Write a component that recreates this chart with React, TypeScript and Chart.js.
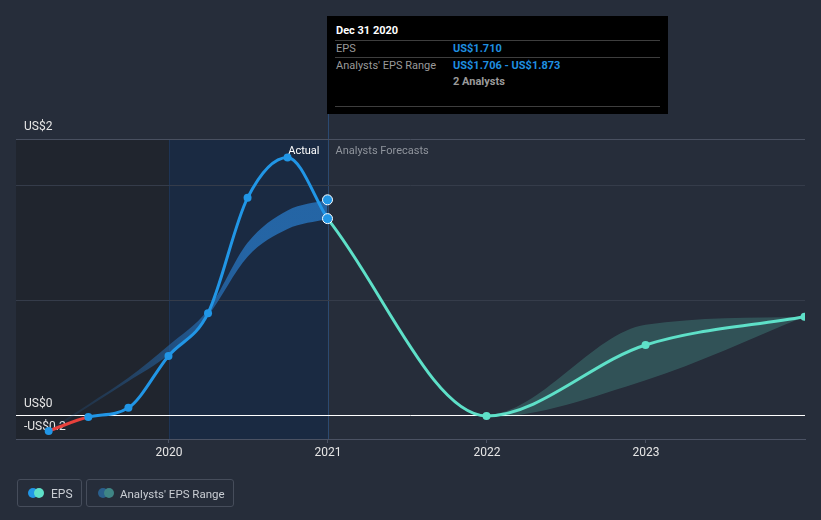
import { useEffect, useRef } from "react";
import { Chart, registerables } from "chart.js";

Chart.register(...registerables);

// ---------- data ----------
const actualDates = ["2019-03-31", "2019-06-30", "2019-09-30", "2019-12-31", "2020-03-31", "2020-06-30", "2020-09-30", "2020-12-31"];
const actualEps = [-0.13, -0.01, 0.07, 0.52, 0.89, 1.89, 2.24, 1.71];
const pastRangeLow = [-0.14, 0.08, 0.3, 0.53, 0.87, 1.38, 1.62, 1.706];
const pastRangeHigh = [-0.12, 0.1, 0.33, 0.61, 0.92, 1.5, 1.78, 1.873];

const forecastDates = ["2020-12-31", "2021-12-31", "2022-12-31", "2023-12-31"];
const forecastEps = [1.71, 0.0, 0.615, 0.86];
const forecastLow = [1.706, -0.01, 0.31, 0.86];
const forecastHigh = [1.71, 0.01, 0.79, 0.86];

const markerDates = ["2020-12-31", "2020-12-31"];
const markerValues = [1.873, 1.71];

const xTickYears = [2020, 2021, 2022, 2023];
const xRangeDates = ["2019-01-15", "2024-01-01"];
const yTickValues = [-0.2, 0, 1, 2, 2.4];
const yTickLabels = ["-US$0.2", "US$0", "", "", "US$2"];
const yRange = [-0.2, 2.4];
const highlightStartDate = "2020-01-01";
const highlightEndDate = "2020-12-31";

const tooltipTitle = "Dec 31 2020";
const tooltipEps = "US$1.710";
const tooltipRange = "US$1.706 - US$1.873";
const tooltipAnalysts = "2 Analysts";

// ---------- helpers ----------
function toYear(d: string): number {
  const [y, m, dd] = d.split("-").map(Number);
  const start = Date.UTC(y, 0, 1);
  const end = Date.UTC(y + 1, 0, 1);
  return y + (Date.UTC(y, m - 1, dd) - start) / (end - start);
}
function pts(dates: string[], vals: number[]) {
  return dates.map((d, i) => ({ x: toYear(d), y: vals[i] }));
}

const BLUE = "#2196e6";
const TEAL = "#5ee0c8";
const RED = "#e8413c";
const FONT = "Roboto";

const regionsPlugin = {
  id: "regions",
  beforeDraw(chart: any) {
    const { ctx, chartArea } = chart;
    const xs = chart.scales.x;
    const { top, bottom, left } = chartArea;
    const x0 = xs.getPixelForValue(toYear(highlightStartDate));
    const x1 = xs.getPixelForValue(toYear(highlightEndDate));
    ctx.save();
    ctx.fillStyle = "#20252e";
    ctx.fillRect(left, top, x0 - left, bottom - top);
    ctx.fillStyle = "#1a2a42";
    ctx.fillRect(x0, top, x1 - x0, bottom - top);
    ctx.fillStyle = "#1e3455";
    ctx.fillRect(Math.round(x0), top, 1, bottom - top);
    ctx.fillStyle = "#2b4a72";
    ctx.fillRect(Math.round(x1), top - 25, 1, bottom - top + 25);
    ctx.restore();
  },
  beforeDatasetsDraw(chart: any) {
    const { ctx, chartArea } = chart;
    const xs = chart.scales.x;
    const x1 = xs.getPixelForValue(toYear(highlightEndDate));
    ctx.save();
    ctx.font = `11px ${FONT}`;
    ctx.textBaseline = "middle";
    ctx.textAlign = "right";
    ctx.fillStyle = "#ffffff";
    ctx.fillText("Actual", x1 - 8, chartArea.top + 12);
    ctx.textAlign = "left";
    ctx.fillStyle = "#8f949c";
    ctx.fillText("Analysts Forecasts", x1 + 8, chartArea.top + 12);
    ctx.restore();
  },
};

function pastBandColor(c: any) {
  const chart = c.chart;
  const area = chart.chartArea;
  if (!area) return "rgba(37,104,170,0.9)";
  const xs = chart.scales.x;
  const g = chart.ctx.createLinearGradient(
    xs.getPixelForValue(toYear(actualDates[0])), 0,
    xs.getPixelForValue(toYear(actualDates[5])), 0
  );
  g.addColorStop(0, "rgba(37,104,170,0.05)");
  g.addColorStop(1, "rgba(37,104,170,0.95)");
  return g;
}

export default function App() {
  const ref = useRef<HTMLCanvasElement>(null);

  useEffect(() => {
    if (!ref.current) return;
    const chart = new Chart(ref.current, {
      type: "line",
      data: {
        datasets: [
          {
            label: "markers",
            data: pts(markerDates, markerValues),
            showLine: false,
            pointRadius: 5,
            pointBackgroundColor: BLUE,
            pointBorderColor: "#ffffff",
            pointBorderWidth: 1,
            order: 0,
          },
          {
            label: "EPS",
            data: pts(actualDates, actualEps),
            borderColor: BLUE,
            borderWidth: 3,
            cubicInterpolationMode: "monotone",
            pointRadius: actualDates.map((_, i) => (i === actualDates.length - 1 ? 0 : 4)),
            pointBackgroundColor: BLUE,
            pointBorderWidth: 0,
            fill: false,
            segment: {
              borderColor: (c: any) => (c.p1.parsed.y < 0 ? RED : undefined),
            },
            order: 1,
          },
          {
            label: "EPS forecast",
            data: pts(forecastDates, forecastEps),
            borderColor: TEAL,
            borderWidth: 3,
            cubicInterpolationMode: "monotone",
            pointRadius: forecastDates.map((_, i) => (i === 0 ? 0 : 4)),
            pointBackgroundColor: TEAL,
            pointBorderWidth: 0,
            fill: false,
            order: 1,
          },
          {
            label: "pastLow",
            data: pts(actualDates, pastRangeLow),
            borderWidth: 0,
            pointRadius: 0,
            cubicInterpolationMode: "monotone",
            fill: false,
            order: 5,
          },
          {
            label: "pastHigh",
            data: pts(actualDates, pastRangeHigh),
            borderWidth: 0,
            pointRadius: 0,
            cubicInterpolationMode: "monotone",
            backgroundColor: pastBandColor,
            fill: "-1",
            order: 5,
          },
          {
            label: "fcLow",
            data: pts(forecastDates, forecastLow),
            borderWidth: 0,
            pointRadius: 0,
            cubicInterpolationMode: "monotone",
            fill: false,
            order: 5,
          },
          {
            label: "fcHigh",
            data: pts(forecastDates, forecastHigh),
            borderWidth: 0,
            pointRadius: 0,
            cubicInterpolationMode: "monotone",
            backgroundColor: "rgba(93,224,197,0.21)",
            fill: "-1",
            order: 5,
          },
        ],
      } as any,
      options: {
        responsive: false,
        maintainAspectRatio: false,
        animation: false,
        devicePixelRatio: 1,
        layout: { padding: { left: 16, right: 16, top: 139, bottom: 41 } },
        plugins: { legend: { display: false }, tooltip: { enabled: false } },
        scales: {
          x: {
            type: "linear",
            min: toYear(xRangeDates[0]),
            max: toYear(xRangeDates[1]),
            afterBuildTicks: (s: any) => {
              s.ticks = xTickYears.map((v) => ({ value: v }));
            },
            afterFit: (s: any) => {
              s.height = 40;
            },
            grid: { drawOnChartArea: false, drawTicks: true, tickLength: 4, color: "#4b5263" },
            border: { display: true, color: "#4b5263", width: 1 },
            ticks: {
              color: "#e6e6e6",
              font: { family: FONT, size: 12 },
              padding: 3,
              maxRotation: 0,
              autoSkip: false,
              callback: (v: any) => String(v),
            },
          },
          y: {
            type: "linear",
            min: yRange[0],
            max: yRange[1],
            afterBuildTicks: (s: any) => {
              s.ticks = yTickValues.map((v) => ({ value: v }));
            },
            afterFit: (s: any) => {
              s.width = 0;
            },
            border: { display: false },
            grid: {
              drawTicks: false,
              lineWidth: 1,
              color: (c: any) => {
                const v = c.tick ? c.tick.value : null;
                if (v === 0) return "#ffffff";
                if (v === yRange[0]) return "rgba(0,0,0,0)";
                if (v === yRange[1]) return "#495060";
                return "#353c4a";
              },
            },
            ticks: {
              mirror: true,
              padding: 8,
              labelOffset: -12,
              color: "#e6e6e6",
              font: { family: FONT, size: 12 },
              autoSkip: false,
              callback: (v: any) => {
                const i = yTickValues.indexOf(Number(v));
                return i >= 0 ? yTickLabels[i] : "";
              },
            },
          },
        },
      } as any,
      plugins: [regionsPlugin],
    });
    return () => chart.destroy();
  }, []);

  const rowLine: any = { position: "absolute", left: 8, right: 8, height: 1, background: "#3e3e3e" };
  const txt: any = { position: "absolute", fontSize: 11, lineHeight: "13px", whiteSpace: "nowrap" };

  return (
    <div
      style={{
        position: "fixed",
        left: 0,
        top: 0,
        width: 821,
        height: 520,
        background: "#262d3a",
        overflow: "hidden",
        fontFamily: FONT,
      }}
    >
      <canvas ref={ref} width={821} height={520} style={{ position: "absolute", left: 0, top: 0, width: 821, height: 520 }} />
      <div style={{ position: "absolute", left: 327, top: 16, width: 341, height: 98, background: "#000000" }}>
        <span style={{ ...txt, left: 9, top: 8, color: "#ffffff", fontWeight: 700 }}>{tooltipTitle}</span>
        <div style={{ ...rowLine, top: 24 }} />
        <span style={{ ...txt, left: 9, top: 26, color: "#9a9a9a" }}>EPS</span>
        <span style={{ ...txt, left: 126, top: 26, color: "#1f8fe0", fontWeight: 700 }}>{tooltipEps}</span>
        <div style={{ ...rowLine, top: 41 }} />
        <span style={{ ...txt, left: 9, top: 43, color: "#9a9a9a" }}>Analysts' EPS Range</span>
        <span style={{ ...txt, left: 126, top: 43, color: "#1f8fe0", fontWeight: 700 }}>{tooltipRange}</span>
        <span style={{ ...txt, left: 126, top: 59, color: "#9a9a9a", fontWeight: 700 }}>{tooltipAnalysts}</span>
        <div style={{ ...rowLine, top: 90 }} />
      </div>
      <div
        style={{
          position: "absolute",
          left: 17,
          top: 479,
          width: 63,
          height: 26,
          border: "1px solid #464d5b",
          borderRadius: 3,
        }}
      >
        <span style={{ position: "absolute", left: 10, top: 8, width: 10, height: 10, borderRadius: 5, background: BLUE }} />
        <span style={{ position: "absolute", left: 16, top: 8, width: 10, height: 10, borderRadius: 5, background: TEAL }} />
        <span style={{ ...txt, left: 33, top: 7, color: "#c9cdd3", fontSize: 12, lineHeight: "14px" }}>EPS</span>
      </div>
      <div
        style={{
          position: "absolute",
          left: 86,
          top: 479,
          width: 146,
          height: 26,
          border: "1px solid #464d5b",
          borderRadius: 3,
        }}
      >
        <span style={{ position: "absolute", left: 11, top: 8, width: 10, height: 10, borderRadius: 5, background: "#2a5f8c" }} />
        <span style={{ position: "absolute", left: 17, top: 8, width: 10, height: 10, borderRadius: 5, background: "#3f8585" }} />
        <span style={{ ...txt, left: 33, top: 7, color: "#c9cdd3", fontSize: 11.5, lineHeight: "14px" }}>Analysts' EPS Range</span>
      </div>
    </div>
  );
}
